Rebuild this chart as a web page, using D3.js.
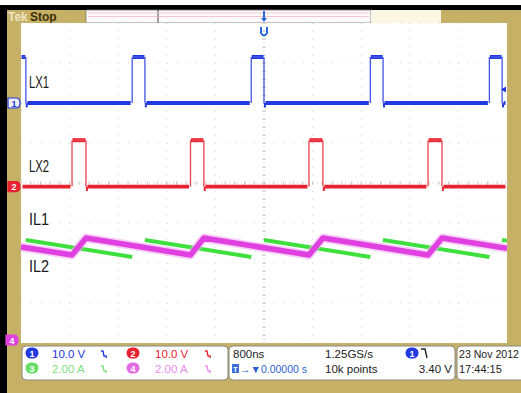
<!DOCTYPE html>
<html><head><meta charset="utf-8">
<script src="https://cdn.jsdelivr.net/npm/d3@7"></script>
<style>body{margin:0;background:#fff}svg{display:block}text{font-family:"Liberation Sans",Arial,sans-serif}</style>
</head><body>
<svg id="c" width="521" height="393"></svg>
<script>
// ---- data (time in ns, volts / amps) ----
const timeDomain = [-4000, 4000];        // 800 ns/div, 10 div
const divDomain = [-4, 4];
const lx1Rise = [-2170, -210, 1750, 3710];
const lx1Fall = [-3920, -1960, 0, 1960, 3920];
const lx1StartHigh = true;
const lx2Rise = [-3160, -1210, 740, 2700];
const lx2Fall = [-2930, -990, 970, 2930];
const lx2StartHigh = false;
const lxHighV = [11.5, 11.6];
const undershootV = -1.1;
const il1T = [-4000, -3920, -2170, -1960, -210, 0, 1750, 1960, 3710, 3920, 4000];
const il1A = [5.0, 5.15, 4.3, 5.15, 4.3, 5.15, 4.3, 5.15, 4.3, 5.15, 5.12];
const il2T = [-4000, -3160, -2930, -1210, -990, 740, 970, 2700, 2930, 4000];
const il2A = [4.8, 4.4, 5.25, 4.4, 5.25, 4.4, 5.25, 4.4, 5.25, 4.73];
const chScale = [10, 10, 2, 2];          // units per div
const chOffset = [2, -0.09, -4, -4];     // divisions
const chNames = ["LX1", "LX2", "IL1", "IL2"];
const chColors = ["#2238e2", "#e8222e", "#3ee03e", "#e040e0"];
const infoRow1 = ["10.0 V", "10.0 V"];
const infoRow2 = ["2.00 A", "2.00 A"];
const horizInfo = ["800ns", "1.25GS/s", "0.00000 s", "10k points"];
const trigLevel = "3.40 V";
const trigLevelV = 3.4;
const dateInfo = ["23 Nov 2012", "17:44:15"];

const svg = d3.select("#c");
const PL = 21, PR = 507, PT = 23, PB = 343;
const x = d3.scaleLinear().domain(timeDomain).range([PL, PR]);
const yDiv = d3.scaleLinear().domain(divDomain).range([PB, PT]);
const yCh = i => v => yDiv(v / chScale[i] + chOffset[i]);
const olive = "#c6b066";

// frame
svg.append("rect").attr("x",0).attr("y",0).attr("width",521).attr("height",393).attr("fill",olive);
svg.append("rect").attr("x",0).attr("y",0).attr("width",521).attr("height",5).attr("fill","#fff");
svg.append("rect").attr("x",0).attr("y",5).attr("width",521).attr("height",5).attr("fill","#000");
svg.append("rect").attr("x",0).attr("y",10).attr("width",7).attr("height",383).attr("fill","#000");
// header
svg.append("rect").attr("x",86).attr("y",10).attr("width",285).attr("height",13).attr("fill","#fdfafa").attr("stroke","#777").attr("stroke-width",0.8);
svg.append("line").attr("x1",158).attr("x2",158).attr("y1",10).attr("y2",23).attr("stroke","#444");
svg.append("line").attr("x1",88).attr("x2",369).attr("y1",13).attr("y2",13).attr("stroke","#f0b8c8").attr("stroke-width",0.8);
svg.append("line").attr("x1",88).attr("x2",369).attr("y1",16.5).attr("y2",16.5).attr("stroke","#f0b8c8").attr("stroke-width",0.8);
svg.append("rect").attr("x",371).attr("y",10).attr("width",70).attr("height",13).attr("fill","#fcf6e4");
svg.append("text").attr("x",8).attr("y",21).attr("font-size",12).attr("font-weight","bold").attr("fill","#efe6c4").text("Tek");
svg.append("text").attr("x",30).attr("y",21).attr("font-size",12).attr("font-weight","bold").attr("fill","#3b2f05").text("Stop");

// plot area
svg.append("rect").attr("x",PL).attr("y",PT).attr("width",PR-PL).attr("height",PB-PT).attr("fill","#fff");
const grid = svg.append("g");
const xt = d3.range(timeDomain[0], timeDomain[1] + 1, 800);
const yt = d3.range(divDomain[0], divDomain[1] + 1, 1);
const xStep = (x(800) - x(0)) / 5, yStep = (yDiv(0) - yDiv(1)) / 5;
grid.selectAll(".vg").data(xt).join("line")
  .attr("x1", d => x(d)).attr("x2", d => x(d)).attr("y1", PT).attr("y2", PB)
  .attr("stroke", "#d6d6d6").attr("stroke-width", 1)
  .attr("stroke-dasharray", `1 ${yStep - 1}`);
grid.selectAll(".hg").data(yt).join("line")
  .attr("y1", d => yDiv(d)).attr("y2", d => yDiv(d)).attr("x1", PL).attr("x2", PR)
  .attr("stroke", "#d6d6d6").attr("stroke-width", 1)
  .attr("stroke-dasharray", `1 ${xStep - 1}`);
// center axes ticks
const cx = x(0), cy = yDiv(0);
grid.append("line").attr("x1",cx).attr("x2",cx).attr("y1",PT).attr("y2",PB).attr("stroke","#c8c8c8").attr("stroke-dasharray","1 3");
grid.append("line").attr("x1",PL).attr("x2",PR).attr("y1",cy).attr("y2",cy).attr("stroke","#d0d0d0").attr("stroke-dasharray","1 3");
grid.selectAll(".ty").data(d3.range(0, 41)).join("line")
  .attr("x1", cx-2).attr("x2", cx+2).attr("y1", d => PT + d*yStep).attr("y2", d => PT + d*yStep)
  .attr("stroke","#c8c8c8");
grid.selectAll(".tx").data(d3.range(0, 51)).join("line")
  .attr("y1", cy-2).attr("y2", cy+2).attr("x1", d => PL + d*xStep).attr("x2", d => PL + d*xStep)
  .attr("stroke","#d0d0d0");

// ---- IL traces ----
function segs(T, A) {
  const s = [];
  for (let i = 0; i < T.length - 1; i++) s.push({t0:T[i], a0:A[i], t1:T[i+1], a1:A[i+1]});
  return s;
}
const y3 = yCh(2), y4 = yCh(3);
const gIL1 = svg.append("g");
gIL1.selectAll("line").data(segs(il1T, il1A)).join("line")
  .attr("x1", d => x(d.t0)).attr("y1", d => y3(d.a0)).attr("x2", d => x(d.t1)).attr("y2", d => y3(d.a1))
  .attr("stroke", chColors[2]).attr("stroke-linecap","butt")
  .attr("stroke-width", d => d.a1 < d.a0 ? 3.8 : 1)
  .attr("opacity", d => d.a1 < d.a0 ? 1 : 0.15);
const line4 = d3.line().x((d,i) => x(il2T[i])).y(d => y4(d));
svg.append("path").attr("d", line4(il2A)).attr("fill","none").attr("stroke","#f3a8f3").attr("stroke-width",9).attr("opacity",0.55).attr("stroke-linejoin","round");
svg.append("path").attr("d", line4(il2A)).attr("fill","none").attr("stroke",chColors[3]).attr("stroke-width",5.5).attr("stroke-linejoin","round");

// ---- LX traces ----
function drawLX(idx, rises, falls, startHigh, high) {
  const yy = yCh(idx);
  const edges = rises.map(t => ({t, up:true})).concat(falls.map(t => ({t, up:false}))).sort((a,b) => a.t - b.t);
  let level = startHigh ? high : 0, tPrev = timeDomain[0];
  const hs = [], vs = [], us = [];
  edges.forEach(e => {
    hs.push({t0:tPrev, t1:e.t, v:level});
    const nl = e.up ? high : 0;
    vs.push({t:e.t, v0:level, v1:nl});
    if (!e.up) us.push({t:e.t + 15});
    level = nl; tPrev = e.t;
  });
  hs.push({t0:tPrev, t1:timeDomain[1], v:level});
  const g = svg.append("g");
  g.selectAll(".v").data(vs).join("line")
    .attr("x1", d => x(d.t)).attr("x2", d => x(d.t)).attr("y1", d => yy(d.v0)).attr("y2", d => yy(d.v1))
    .attr("stroke", chColors[idx]).attr("stroke-width", 1.3).attr("opacity", 0.85);
  g.selectAll(".u").data(us).join("line")
    .attr("x1", d => x(d.t)).attr("x2", d => x(d.t)).attr("y1", yy(0)).attr("y2", yy(undershootV))
    .attr("stroke", chColors[idx]).attr("stroke-width", 2);
  g.selectAll(".h").data(hs).join("line")
    .attr("x1", d => x(d.t0) + (d.v > 0 ? 0.5 : 1.5)).attr("x2", d => x(d.t1) - (d.v > 0 ? 0.5 : 1.5))
    .attr("y1", d => yy(d.v)).attr("y2", d => yy(d.v))
    .attr("stroke", chColors[idx]).attr("stroke-width", d => d.v > 0 ? 4 : 3.8);
  g.selectAll(".hc").data(hs.filter(d => d.v > 0)).join("line")
    .attr("x1", d => x(d.t0) + 1.5).attr("x2", d => x(d.t1) - 1.5)
    .attr("y1", d => yy(d.v)).attr("y2", d => yy(d.v))
    .attr("stroke", "#ffffff").attr("stroke-width", 0.7).attr("opacity", 0.35);
}
drawLX(0, lx1Rise, lx1Fall, lx1StartHigh, lxHighV[0]);
drawLX(1, lx2Rise, lx2Fall, lx2StartHigh, lxHighV[1]);

// labels
const labelY = [88, 172, 225, 272];
svg.selectAll(".lab").data(chNames).join("text")
  .attr("x", 29).attr("y", (d,i) => labelY[i]).attr("font-size", 16.5)
  .attr("textLength", 20).attr("lengthAdjust","spacingAndGlyphs")
  .attr("fill", "#1a1a1a").text(d => d);

// channel markers (left)
function marker(cxm, cym, color, txt, filled) {
  const g = svg.append("g").attr("transform", `translate(${cxm},${cym})`);
  g.append("path").attr("d","M-6,-5 L2,-5 Q6,-5 6,0 Q6,5 2,5 L-6,5 Z")
    .attr("fill", filled ? color : "#eef0ff").attr("stroke", color).attr("stroke-width",1.2);
  g.append("text").attr("x",0).attr("y",3.5).attr("text-anchor","middle").attr("font-size",9).attr("font-weight","bold")
    .attr("fill", filled ? "#fff" : color).text(txt);
}
marker(14, yCh(0)(0), chColors[0], "1", false);
marker(14, yCh(1)(0), chColors[1], "2", true);
marker(12, 340, chColors[3], "4", true);

// trigger position marker (top) and level marker (right)
svg.append("line").attr("x1",x(0)).attr("x2",x(0)).attr("y1",11).attr("y2",21).attr("stroke","#2a6ae0").attr("stroke-width",2);
svg.append("path").attr("d",`M${x(0)-3},18 L${x(0)+3},18 L${x(0)},22 Z`).attr("fill","#2a6ae0");
svg.append("path").attr("d",`M${x(0)-3},27 L${x(0)-3},33 Q${x(0)},38 ${x(0)+3},33 L${x(0)+3},27`).attr("fill","none").attr("stroke","#2a6ae0").attr("stroke-width",2);
const ty = yCh(0)(trigLevelV);
svg.append("path").attr("d",`M${PR-6},${ty} L${PR-1},${ty-3} L${PR-1},${ty+3} Z`).attr("fill",chColors[0]);

// ---- bottom info panel ----
const boxes = [[22,228],[229,455],[457,530]];
svg.selectAll(".box").data(boxes).join("rect")
  .attr("x", d => d[0]).attr("y", 346).attr("width", d => d[1]-d[0]).attr("height", 34).attr("rx",4)
  .attr("fill","#fff").attr("stroke","#8a8a80").attr("stroke-width",1);
function badge(bx, by, color, txt) {
  svg.append("rect").attr("x",bx-6.5).attr("y",by-5.5).attr("width",13).attr("height",11).attr("rx",5.5).attr("fill",color);
  svg.append("text").attr("x",bx).attr("y",by+3.5).attr("text-anchor","middle").attr("font-size",9).attr("font-weight","bold").attr("fill","#fff").text(txt);
}
function bwIcon(ix, iy, color) {
  svg.append("path").attr("d",`M${ix},${iy-7} L${ix+2},${iy-7} L${ix+3},${iy-2} L${ix+5},${iy-2} L${ix+5.5},${iy}`)
    .attr("fill","none").attr("stroke",color).attr("stroke-width",1.3);
}
const r1 = 358, r2 = 373;
const lightCols = ["#2238e2", "#e8222e", "#7ee07e", "#ee8cee"];
const badgeCols = ["#2238e2", "#e8222e", "#66dd66", "#e36ae3"];
badge(32, 353, badgeCols[0], "1");
badge(133, 353, badgeCols[1], "2");
badge(32, 368, badgeCols[2], "3");
badge(133, 368, badgeCols[3], "4");
svg.append("text").attr("x",52).attr("y",r1).attr("font-size",11.5).attr("fill",lightCols[0]).text(infoRow1[0]);
svg.append("text").attr("x",155).attr("y",r1).attr("font-size",11.5).attr("fill",lightCols[1]).text(infoRow1[1]);
svg.append("text").attr("x",52).attr("y",r2).attr("font-size",11.5).attr("fill",lightCols[2]).text(infoRow2[0]);
svg.append("text").attr("x",155).attr("y",r2).attr("font-size",11.5).attr("fill",lightCols[3]).text(infoRow2[1]);
bwIcon(101, r1, lightCols[0]); bwIcon(205, r1, lightCols[1]);
bwIcon(101, r2, lightCols[2]); bwIcon(205, r2, lightCols[3]);

svg.append("text").attr("x",233).attr("y",r1).attr("font-size",11.5).attr("fill","#222").text(horizInfo[0]);
svg.append("text").attr("x",325).attr("y",r1).attr("font-size",11.5).attr("fill","#222").text(horizInfo[1]);
svg.append("rect").attr("x",232).attr("y",364).attr("width",7).attr("height",9).attr("fill","#3d6fd8");
svg.append("text").attr("x",235.5).attr("y",371.5).attr("text-anchor","middle").attr("font-size",7).attr("font-weight","bold").attr("fill","#fff").text("T");
svg.append("text").attr("x",240).attr("y",r2).attr("font-size",10.5).attr("fill","#2f5fd0").text("→▼" + horizInfo[2]);
svg.append("text").attr("x",325).attr("y",r2).attr("font-size",11.5).attr("fill","#222").text(horizInfo[3]);
badge(412, 353, badgeCols[0], "1");
svg.append("path").attr("d","M421,349 L425,349 L427,358").attr("fill","none").attr("stroke","#222").attr("stroke-width",1.4);
svg.append("text").attr("x",452).attr("y",r2).attr("text-anchor","end").attr("font-size",11.5).attr("fill","#222").text(trigLevel);
svg.append("text").attr("x",459).attr("y",r1).attr("font-size",11).attr("textLength",60).attr("lengthAdjust","spacingAndGlyphs").attr("fill","#222").text(dateInfo[0]);
svg.append("text").attr("x",459).attr("y",r2).attr("font-size",11).attr("fill","#222").text(dateInfo[1]);
</script>
</body></html>
